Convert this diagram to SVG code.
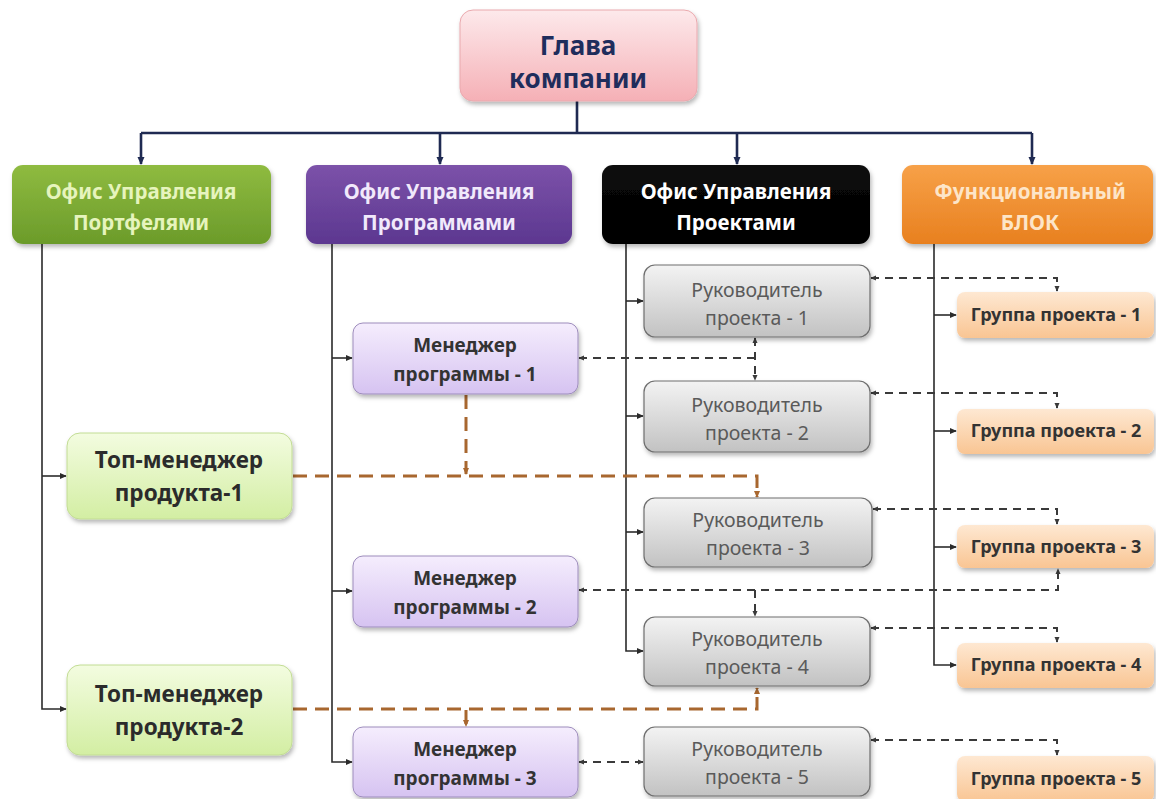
<svg xmlns="http://www.w3.org/2000/svg" width="1156" height="799" viewBox="0 0 1156 799">
  <style>
    .t { font-family: "Noto Sans", "Liberation Sans", sans-serif; text-anchor: middle; }
    .b { font-weight: bold; }
    .hd { font-size: 20.5px; font-weight: bold; }
    .pm { font-size: 19px; font-weight: bold; fill: #333; }
    .pl { font-size: 19.5px; fill: #5a5a5a; }
    .pg { font-size: 18px; font-weight: bold; fill: #333; }
    .tm { font-size: 22.5px; font-weight: bold; fill: #2b2b2b; }
    .solid { fill: none; stroke: #2b2b2b; stroke-width: 1.6; }
    .bus { fill: none; stroke: #1f2a52; stroke-width: 2.6; }
    .dash { fill: none; stroke: #3a3a3a; stroke-width: 2; stroke-dasharray: 8 6; }
    .odash { fill: none; stroke: #a8672f; stroke-width: 3; stroke-dasharray: 14 8; }
  </style>
  <defs>
    <filter id="sh" x="-10%" y="-10%" width="125%" height="135%">
      <feDropShadow dx="1.5" dy="3" stdDeviation="2.2" flood-color="#000" flood-opacity="0.28"/>
    </filter>
    <linearGradient id="gTop" x1="0" y1="0" x2="0" y2="1">
      <stop offset="0" stop-color="#fde9eb"/><stop offset="1" stop-color="#f5b0b6"/>
    </linearGradient>
    <linearGradient id="gGreen" x1="0" y1="0" x2="0" y2="1">
      <stop offset="0" stop-color="#8fbb40"/><stop offset="1" stop-color="#6b9b2a"/>
    </linearGradient>
    <linearGradient id="gPurple" x1="0" y1="0" x2="0" y2="1">
      <stop offset="0" stop-color="#7c52a9"/><stop offset="1" stop-color="#5c3790"/>
    </linearGradient>
    <linearGradient id="gBlack" x1="0" y1="0" x2="0" y2="1">
      <stop offset="0" stop-color="#0a0a0a"/><stop offset="1" stop-color="#000"/>
    </linearGradient>
    <linearGradient id="gOrange" x1="0" y1="0" x2="0" y2="1">
      <stop offset="0" stop-color="#f7a148"/><stop offset="1" stop-color="#e8801f"/>
    </linearGradient>
    <linearGradient id="gLime" x1="0" y1="0" x2="0" y2="1">
      <stop offset="0" stop-color="#f3fce0"/><stop offset="1" stop-color="#d3eea3"/>
    </linearGradient>
    <linearGradient id="gLilac" x1="0" y1="0" x2="0" y2="1">
      <stop offset="0" stop-color="#f5edfd"/><stop offset="1" stop-color="#d6c3f1"/>
    </linearGradient>
    <linearGradient id="gGrey" x1="0" y1="0" x2="0" y2="1">
      <stop offset="0" stop-color="#f3f3f3"/><stop offset="1" stop-color="#c2c2c2"/>
    </linearGradient>
    <linearGradient id="gPeach" x1="0" y1="0" x2="0" y2="1">
      <stop offset="0" stop-color="#fee8d2"/><stop offset="1" stop-color="#f9c593"/>
    </linearGradient>
    <marker id="aBus" viewBox="0 0 8 8" refX="7" refY="4" markerWidth="8" markerHeight="8" markerUnits="userSpaceOnUse" orient="auto">
      <path d="M0,0.5 L8,4 L0,7.5 z" fill="#1f2a52"/>
    </marker>
    <marker id="aSolid" viewBox="0 0 8 8" refX="7" refY="4" markerWidth="7" markerHeight="7" markerUnits="userSpaceOnUse" orient="auto">
      <path d="M0,0.5 L8,4 L0,7.5 z" fill="#2b2b2b"/>
    </marker>
    <marker id="aDash" viewBox="0 0 8 8" refX="7" refY="4" markerWidth="6" markerHeight="6" markerUnits="userSpaceOnUse" orient="auto-start-reverse">
      <path d="M0,0.5 L8,4 L0,7.5 z" fill="#3a3a3a"/>
    </marker>
    <marker id="aOr" viewBox="0 0 8 8" refX="7" refY="4" markerWidth="7" markerHeight="7" markerUnits="userSpaceOnUse" orient="auto">
      <path d="M0,0.5 L8,4 L0,7.5 z" fill="#a8672f"/>
    </marker>
  </defs>

  <rect width="1156" height="799" fill="#ffffff"/>

  <!-- connectors -->
  <g id="connectors">
    <!-- head of company to offices -->
    <path class="bus" d="M577,101 V133 M141,133 H1032"/>
    <path class="bus" d="M141,133 V164" marker-end="url(#aBus)"/>
    <path class="bus" d="M440,133 V164" marker-end="url(#aBus)"/>
    <path class="bus" d="M737,133 V164" marker-end="url(#aBus)"/>
    <path class="bus" d="M1032,133 V164" marker-end="url(#aBus)"/>

    <!-- portfolio office -->
    <path class="solid" d="M42,244 V709 H66" marker-end="url(#aSolid)"/>
    <path class="solid" d="M42,476 H66" marker-end="url(#aSolid)"/>

    <!-- programme office -->
    <path class="solid" d="M332,244 V762 H352" marker-end="url(#aSolid)"/>
    <path class="solid" d="M332,358 H352" marker-end="url(#aSolid)"/>
    <path class="solid" d="M332,591 H352" marker-end="url(#aSolid)"/>

    <!-- project office -->
    <path class="solid" d="M626,244 V651 H643" marker-end="url(#aSolid)"/>
    <path class="solid" d="M626,301 H643" marker-end="url(#aSolid)"/>
    <path class="solid" d="M626,416 H643" marker-end="url(#aSolid)"/>
    <path class="solid" d="M626,532 H643" marker-end="url(#aSolid)"/>

    <!-- functional block -->
    <path class="solid" d="M934,244 V665 H956" marker-end="url(#aSolid)"/>
    <path class="solid" d="M934,315 H956" marker-end="url(#aSolid)"/>
    <path class="solid" d="M934,431 H956" marker-end="url(#aSolid)"/>
    <path class="solid" d="M934,547 H956" marker-end="url(#aSolid)"/>

    <!-- project leads to project groups -->
    <path class="dash" d="M871,278 H1057 V291" marker-start="url(#aDash)" marker-end="url(#aDash)"/>
    <path class="dash" d="M871,393 H1057 V408" marker-start="url(#aDash)" marker-end="url(#aDash)"/>
    <path class="dash" d="M873,509 H1057 V524" marker-start="url(#aDash)" marker-end="url(#aDash)"/>
    <path class="dash" d="M871,628 H1057 V642" marker-start="url(#aDash)" marker-end="url(#aDash)"/>
    <path class="dash" d="M871,740 H1057 V755" marker-start="url(#aDash)" marker-end="url(#aDash)"/>

    <!-- programme managers to project leads -->
    <path class="dash" d="M579,358 H755" marker-start="url(#aDash)"/>
    <path class="dash" d="M755,338 V380" stroke-dasharray="6 5" marker-start="url(#aDash)" marker-end="url(#aDash)"/>
    <path class="dash" d="M579,590 H1058 V569" marker-start="url(#aDash)" marker-end="url(#aDash)"/>
    <path class="dash" d="M755,590 V616" stroke-dasharray="6 5" marker-end="url(#aDash)"/>
    <path class="dash" d="M579,762 H643" marker-start="url(#aDash)" marker-end="url(#aDash)"/>

    <!-- product managers -->
    <path class="odash" d="M293,476 H757 V497" marker-end="url(#aOr)"/>
    <path class="odash" d="M466,395 V474" stroke-dasharray="12 8" marker-end="url(#aOr)"/>
    <path class="odash" d="M293,709 H757 V688" marker-end="url(#aOr)"/>
    <path class="odash" d="M466,710 V726" stroke-dasharray="5 4" stroke-width="2" marker-end="url(#aOr)"/>
  </g>

  <!-- head -->
  <g id="head">
    <rect x="460" y="10" width="237" height="91" rx="13" fill="url(#gTop)" stroke="#eaa9ae" stroke-width="1" filter="url(#sh)"/>
    <text class="t b" x="578" y="55" font-size="26" fill="#1f2d5c">Глава</text>
    <text class="t b" x="578" y="88" font-size="26" fill="#1f2d5c">компании</text>
  </g>

  <!-- offices -->
  <g id="office-portfolio">
    <rect x="12" y="165" width="259" height="79" rx="11" fill="url(#gGreen)" filter="url(#sh)"/>
    <text class="t hd" x="141" y="199" fill="#e6f4bd">Офис Управления</text>
    <text class="t hd" x="141" y="230" fill="#e6f4bd">Портфелями</text>
  </g>
  <g id="office-programs">
    <rect x="306" y="165" width="266" height="79" rx="11" fill="url(#gPurple)" filter="url(#sh)"/>
    <text class="t hd" x="439" y="199" fill="#f1e9fb">Офис Управления</text>
    <text class="t hd" x="439" y="230" fill="#f1e9fb">Программами</text>
  </g>
  <g id="office-projects">
    <rect x="602" y="165" width="268" height="79" rx="11" fill="url(#gBlack)" filter="url(#sh)"/>
    <text class="t hd" x="736" y="199" fill="#ffffff">Офис Управления</text>
    <text class="t hd" x="736" y="230" fill="#ffffff">Проектами</text>
  </g>
  <g id="functional-block">
    <rect x="902" y="165" width="251" height="79" rx="11" fill="url(#gOrange)" filter="url(#sh)"/>
    <text class="t hd" x="1030" y="199" fill="#fde5c8">Функциональный</text>
    <text class="t hd" x="1030" y="230" fill="#fde5c8">БЛОК</text>
  </g>

  <!-- product top managers -->
  <g id="product-manager-1">
    <rect x="67" y="433" width="225" height="86" rx="13" fill="url(#gLime)" stroke="#c2dc94" stroke-width="1" filter="url(#sh)"/>
    <text class="t tm" x="179" y="468">Топ-менеджер</text>
    <text class="t tm" x="179" y="501">продукта-1</text>
  </g>
  <g id="product-manager-2">
    <rect x="67" y="665" width="225" height="90" rx="13" fill="url(#gLime)" stroke="#c2dc94" stroke-width="1" filter="url(#sh)"/>
    <text class="t tm" x="179" y="702">Топ-менеджер</text>
    <text class="t tm" x="179" y="735">продукта-2</text>
  </g>

  <!-- programme managers -->
  <g id="program-manager-1">
    <rect x="353" y="323" width="225" height="71" rx="10" fill="url(#gLilac)" stroke="#9d8cbc" stroke-width="1" filter="url(#sh)"/>
    <text class="t pm" x="465" y="352">Менеджер</text>
    <text class="t pm" x="465" y="381">программы - 1</text>
  </g>
  <g id="program-manager-2">
    <rect x="353" y="556" width="225" height="71" rx="10" fill="url(#gLilac)" stroke="#9d8cbc" stroke-width="1" filter="url(#sh)"/>
    <text class="t pm" x="465" y="585">Менеджер</text>
    <text class="t pm" x="465" y="614">программы - 2</text>
  </g>
  <g id="program-manager-3">
    <rect x="353" y="727" width="225" height="70" rx="10" fill="url(#gLilac)" stroke="#9d8cbc" stroke-width="1" filter="url(#sh)"/>
    <text class="t pm" x="465" y="756">Менеджер</text>
    <text class="t pm" x="465" y="785">программы - 3</text>
  </g>

  <!-- project leads -->
  <g id="project-lead-1">
    <rect x="644" y="265" width="226" height="72" rx="11" fill="url(#gGrey)" stroke="#6e6e6e" stroke-width="1.2" filter="url(#sh)"/>
    <text class="t pl" x="757" y="297">Руководитель</text>
    <text class="t pl" x="757" y="325">проекта - 1</text>
  </g>
  <g id="project-lead-2">
    <rect x="644" y="381" width="226" height="71" rx="11" fill="url(#gGrey)" stroke="#6e6e6e" stroke-width="1.2" filter="url(#sh)"/>
    <text class="t pl" x="757" y="412">Руководитель</text>
    <text class="t pl" x="757" y="440">проекта - 2</text>
  </g>
  <g id="project-lead-3">
    <rect x="644" y="498" width="228" height="69" rx="11" fill="url(#gGrey)" stroke="#6e6e6e" stroke-width="1.2" filter="url(#sh)"/>
    <text class="t pl" x="758" y="527">Руководитель</text>
    <text class="t pl" x="758" y="555">проекта - 3</text>
  </g>
  <g id="project-lead-4">
    <rect x="644" y="617" width="226" height="69" rx="11" fill="url(#gGrey)" stroke="#6e6e6e" stroke-width="1.2" filter="url(#sh)"/>
    <text class="t pl" x="757" y="646">Руководитель</text>
    <text class="t pl" x="757" y="674">проекта - 4</text>
  </g>
  <g id="project-lead-5">
    <rect x="644" y="727" width="226" height="69" rx="11" fill="url(#gGrey)" stroke="#6e6e6e" stroke-width="1.2" filter="url(#sh)"/>
    <text class="t pl" x="757" y="756">Руководитель</text>
    <text class="t pl" x="757" y="784">проекта - 5</text>
  </g>

  <!-- project groups -->
  <g id="project-group-1">
    <rect x="957" y="292" width="197" height="46" rx="8" fill="url(#gPeach)" filter="url(#sh)"/>
    <text class="t pg" x="1056" y="321">Группа проекта - 1</text>
  </g>
  <g id="project-group-2">
    <rect x="957" y="409" width="197" height="45" rx="8" fill="url(#gPeach)" filter="url(#sh)"/>
    <text class="t pg" x="1056" y="437">Группа проекта - 2</text>
  </g>
  <g id="project-group-3">
    <rect x="957" y="525" width="197" height="43" rx="8" fill="url(#gPeach)" filter="url(#sh)"/>
    <text class="t pg" x="1056" y="553">Группа проекта - 3</text>
  </g>
  <g id="project-group-4">
    <rect x="957" y="643" width="197" height="45" rx="8" fill="url(#gPeach)" filter="url(#sh)"/>
    <text class="t pg" x="1056" y="671">Группа проекта - 4</text>
  </g>
  <g id="project-group-5">
    <rect x="957" y="756" width="197" height="46" rx="8" fill="url(#gPeach)" filter="url(#sh)"/>
    <text class="t pg" x="1056" y="785">Группа проекта - 5</text>
  </g>
</svg>
